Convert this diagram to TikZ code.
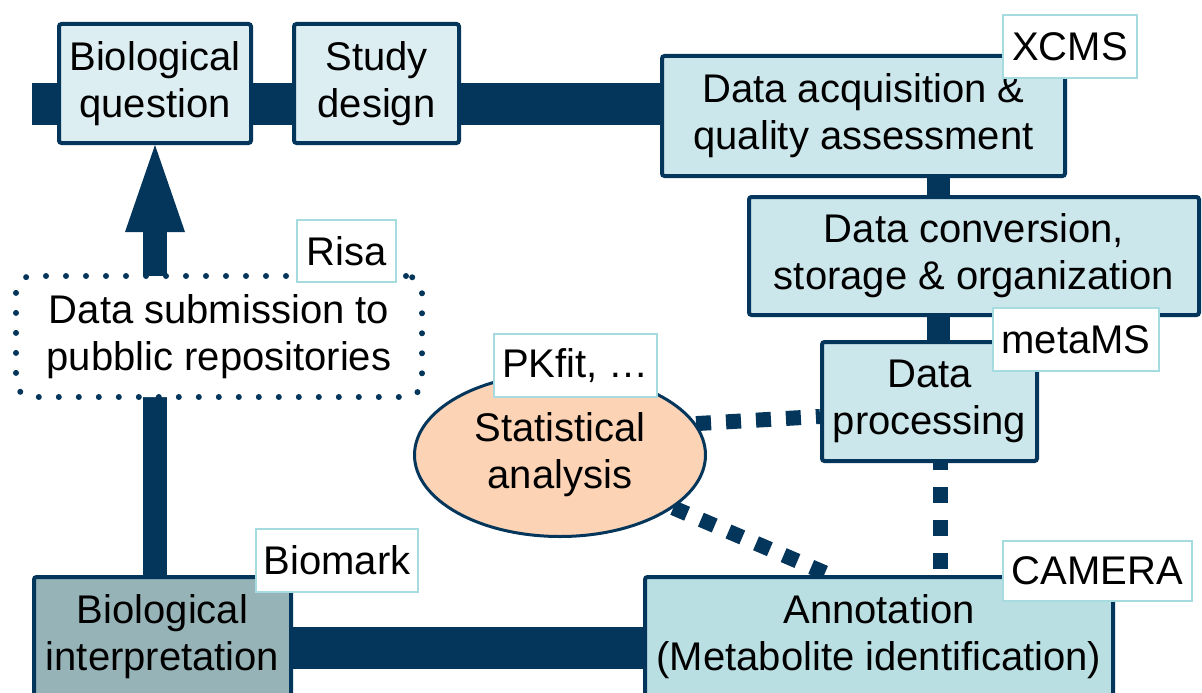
\documentclass[tikz,border=0pt]{standalone}
\usepackage{fontspec}
\setmainfont{Liberation Sans}
\usetikzlibrary{calc,shapes.geometric}
\definecolor{navy}{HTML}{04365C}
\definecolor{boxA}{HTML}{DDEEF2}
\definecolor{boxB}{HTML}{CCE7EB}
\definecolor{boxC}{HTML}{BADFE3}
\definecolor{boxD}{HTML}{96B3B7}
\definecolor{tagc}{HTML}{A6DCE0}
\definecolor{peach}{HTML}{FCD3B5}
\pgfdeclarelayer{base}
\pgfdeclarelayer{bg}
\pgfsetlayers{base,bg,main}
\tikzset{
  box/.style={draw=navy, line width=4pt, rounded corners=2.5pt, align=center, inner sep=0pt, text=black},
  tag/.style={draw=tagc, line width=2pt, fill=white, inner sep=0pt, text=black},
  bar/.style={draw=navy, line width=42pt, line cap=butt},
  vbar/.style={draw=navy, line width=23pt, line cap=butt},
  dashlink/.style={draw=navy, line width=15pt, dash pattern=on 15pt off 15pt, line cap=butt},
}
\begin{document}
\begin{tikzpicture}[x=1pt,y=-1pt,font=\fontsize{40}{47}\selectfont]
\useasboundingbox (0,0) rectangle (1202,693);
\clip (0,0) rectangle (1202,693);
\begin{pgfonlayer}{base}
  \fill[white] (0,0) rectangle (1202,693);
\end{pgfonlayer}

% main boxes
\node[box, fill=boxA, minimum width=192pt, minimum height=119pt] (bq) at (155,83.5) {Biological\\question};
\node[box, fill=boxA, minimum width=165pt, minimum height=119pt] (sd) at (376.5,83.5) {Study\\design};
\node[box, fill=boxB, minimum width=403pt, minimum height=120pt] (da) at (863.5,116) {Data acquisition \&\\quality assessment};
\node[box, fill=boxB, minimum width=450pt, minimum height=118pt] (dc) at (974,256) {Data conversion,\\storage \& organization};
\node[box, fill=boxB, minimum width=215pt, minimum height=119pt] (dp) at (929.5,401.5) {Data\\processing};
\node[box, fill=boxC, minimum width=468pt, minimum height=119pt] (an) at (879,636.5) {Annotation\\(Metabolite identification)};
\node[box, fill=boxD, minimum width=257pt, minimum height=119pt] (bi) at (162.5,636.5) {Biological\\interpretation};
\node[draw=navy, line width=3pt, fill=peach, ellipse, inner sep=0pt, minimum width=291pt, minimum height=163pt, align=center] (sa) at (560,455) {Statistical\\analysis};
\node[draw=navy, fill=white, line width=6pt, dash pattern=on 0pt off 20pt, line cap=round, rounded corners=16pt, inner sep=0pt, minimum width=406pt, minimum height=121pt, align=center] (ds) at (219,336.5) {Data submission to\\pubblic repositories};

% connectors
\coordinate (tl) at (32,104);
\coordinate (cx) at (938.5,0);
\coordinate (px) at (940,0);
\begin{pgfonlayer}{bg}
  \draw[bar] (tl) -- (tl -| da.center);
  \draw[bar] ($(bi.center)+(0,11)$) -- ($(an.center)+(0,11)$);
  \draw[vbar] (da.center -| cx) -- (dc.center -| cx);
  \draw[vbar] (dc.center -| cx) -- (dp.center -| cx);
  \draw[navy, line width=24pt] (bi.center -| bq.south) -- ($(bq.south)+(0,80)$);
  \fill[navy] (bq.south) -- ++(-30,87) -- ++(60,0) -- cycle;
  \draw[dashlink] (sa.13) -- ($(dp.west)+(0,15)$);
  \draw[dashlink] (sa.-25) -- ($(an.north west)+(187,0)$);
  \draw[dashlink, line width=15pt, dash pattern=on 16pt off 17pt, dash phase=9pt] (dp.south -| px) -- (an.north -| px);
\end{pgfonlayer}

% tags
\node[tag, minimum width=134pt, minimum height=63pt] (t1) at (1070,46.5) {XCMS};
\node[tag, minimum width=166pt, minimum height=63pt] (t2) at (1076,339.5) {metaMS};
\node[tag, minimum width=99pt, minimum height=62pt] (t3) at (346.5,251) {Risa};
\node[tag, minimum width=163pt, minimum height=63pt] (t4) at (575.5,365.5) {PKfit, …};
\node[tag, minimum width=162pt, minimum height=63pt] (t5) at (337,560.5) {Biomark};
\node[tag, minimum width=189pt, minimum height=60pt] (t6) at (1097.5,571) {CAMERA};
\end{tikzpicture}
\end{document}
